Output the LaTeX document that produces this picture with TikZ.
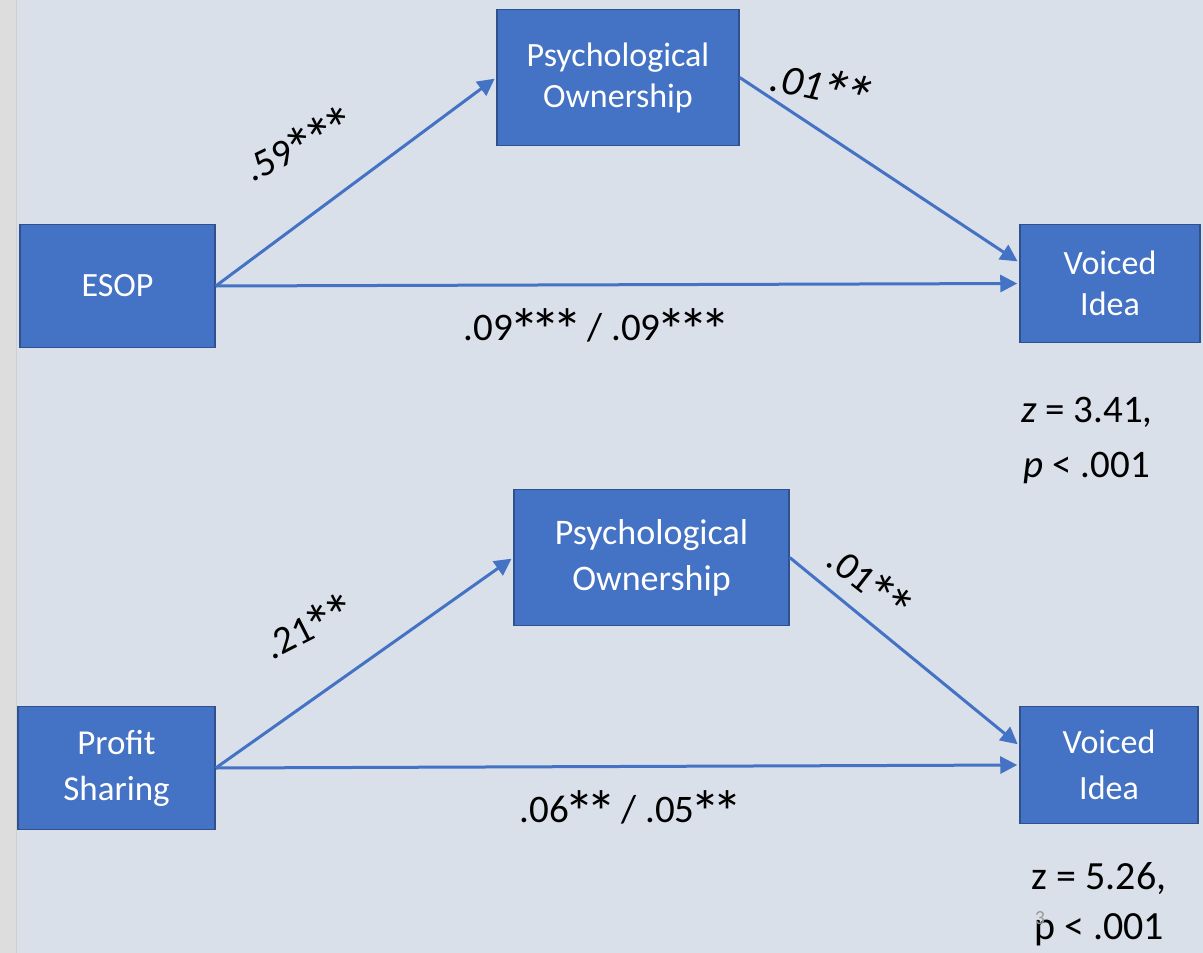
\documentclass[tikz,border=0pt]{standalone}
\usepackage{fontspec}
\setmainfont{Carlito}
\usetikzlibrary{arrows.meta}
\definecolor{pagebg}{HTML}{DAE0E9}
\definecolor{sidebar}{HTML}{DEDDDD}
\definecolor{sideline}{HTML}{D0CFCF}
\definecolor{boxfill}{HTML}{4472C4}
\definecolor{boxedge}{HTML}{2F528F}
\definecolor{arrowblue}{HTML}{4472C4}
% significance star: larger and set lower than the font's own asterisk
\newcommand\sigstar{\makebox[0.56em]{\raisebox{-0.3em}{\scalebox{1.55}{*}}}}
\tikzset{
  varbox/.style={draw=boxedge, line width=1.5pt, fill=boxfill, text=white,
    align=center, inner sep=0pt, font=\fontsize{34}{41}\selectfont},
  path/.style={draw=arrowblue, line width=3pt,
    -{Triangle[length=17pt,width=17pt]}, shorten >=2pt},
  coef/.style={font=\fontsize{39}{46}\selectfont, text=black, inner sep=0pt},
  stat/.style={font=\fontsize{39}{55}\selectfont, text=black, align=center, inner sep=0pt},
}
\begin{document}
\begin{tikzpicture}[x=1pt,y=-1pt]
  % canvas and side strip
  \fill[pagebg] (0,0) rectangle (1203,952);
  \fill[sidebar] (0,0) rectangle (16,952);
  \draw[sideline, line width=1pt] (16,0) -- (16,952);
  \useasboundingbox (0,0) rectangle (1203,952);

  % ---- upper model: ESOP ----
  \node[varbox, minimum width=195pt, minimum height=123pt] (esop) at (117.5,285.5) {ESOP};
  \node[varbox, minimum width=242pt, minimum height=136pt] (po1) at (618,77) {Psychological\\Ownership};
  \node[varbox, minimum width=180pt, minimum height=118pt] (vi1) at (1110,283) {Voiced\\Idea};

  \draw[path] (esop.east) -- (po1.west);
  \draw[path] (po1.east) -- (vi1.west |- 0,262) ;
  \draw[path] (esop.east) -- (vi1.west);

  \node[coef, rotate=26] (c1a) at (300,148) {.59\sigstar\sigstar\sigstar};
  \node[coef, rotate=-12, font=\fontsize{42}{46}\selectfont\itshape] (c1b) at (820,90) {.01\sigstar\sigstar};
  \node[coef] (c1c) at (595,330) {.09\sigstar\sigstar\sigstar{} / .09\sigstar\sigstar\sigstar};
  \node[stat] (s1) at (1087,440) {\itshape z\upshape{} = 3.41,\\ \itshape p\upshape{} < .001};

  % ---- lower model: profit sharing ----
  \node[varbox, minimum width=197pt, minimum height=123pt, font=\fontsize{35}{46}\selectfont] (ps) at (116.5,767.5) {Profit\\Sharing};
  \node[varbox, minimum width=275pt, minimum height=136pt, font=\fontsize{36}{46}\selectfont] (po2) at (651.5,557) {Psychological\\Ownership};
  \node[varbox, minimum width=178pt, minimum height=117pt, font=\fontsize{34}{46}\selectfont] (vi2) at (1109,764.5) {Voiced\\Idea};

  \draw[path] (ps.east) -- (po2.west);
  \draw[path] (po2.east) -- (vi2.west |- 0,745);
  \draw[path] (ps.east) -- (vi2.west);

  \node[coef, rotate=27] (c2a) at (310,630) {.21\sigstar\sigstar};
  \node[coef, rotate=-38] (c2b) at (867,585) {.01\sigstar\sigstar};
  \node[coef] (c2c) at (629,812) {.06\sigstar\sigstar{} / .05\sigstar\sigstar};
  \node[stat, font=\fontsize{40}{50}\selectfont] (s2) at (1099,904) {z = 5.26,\\p < .001};
  \node[text=black!40, font=\fontsize{20}{20}\selectfont, inner sep=0pt] (pg) at (1040,918) {3};
\end{tikzpicture}
\end{document}
